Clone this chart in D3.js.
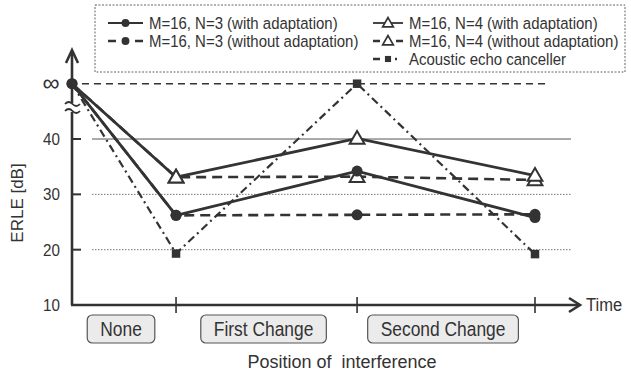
<!DOCTYPE html>
<html>
<head>
<meta charset="utf-8">
<script src="https://cdn.jsdelivr.net/npm/d3@7"></script>
<style>
  body { margin: 0; background: #fff; }
  svg { display: block; font-family: "Liberation Sans", Arial, sans-serif; }
</style>
</head>
<body>
<svg id="chart" width="631" height="374"></svg>
<script>
// ∞ is drawn at the 50 dB position on the axis
const INF = 50;
const times = [0, 1, 2.74, 4.45];
const categories = ["None", "First Change", "Second Change"];
const yTicks = [10, 20, 30, 40];
const gridTicks = [20, 30, 40];

const n3With = [INF, 26.2, 34.2, 25.8];
const n3Without = [INF, 26.2, 26.3, 26.4];
const n4With = [INF, 33.1, 40.1, 33.4];
const n4Without = [INF, 33.1, 33.2, 32.6];
const aec = [INF, 19.3, INF, 19.2];

const ink = "#333";
const svg = d3.select("#chart");

const x = d3.scaleLinear().domain([0, 4.45]).range([72, 535]);
const y = d3.scaleLinear().domain([10, 50]).range([305, 83.7]);

// narrow text, the scan is a bit squeezed sideways
function label(parent, tx, ty, str, size, sx, anchor) {
    return parent.append("text")
        .attr("transform", `translate(${tx},${ty}) scale(${sx},1)`)
        .attr("text-anchor", anchor || "start")
        .attr("font-size", size).attr("fill", ink).text(str);
}

// grid lines
gridTicks.forEach(function(t) {
    svg.append("line")
        .attr("x1", 92).attr("x2", 571)
        .attr("y1", y(t)).attr("y2", y(t))
        .attr("stroke", t === 40 ? "#555" : "#777")
        .attr("stroke-width", 1)
        .attr("stroke-dasharray", t === 40 ? null : "1.5,1.5");
});
// reference line at ∞
svg.append("line")
    .attr("x1", 82).attr("x2", 545)
    .attr("y1", y(INF)).attr("y2", y(INF))
    .attr("stroke", ink).attr("stroke-width", 1.6)
    .attr("stroke-dasharray", "7,5");

// axes
svg.append("line").attr("x1", x(0)).attr("x2", x(0)).attr("y1", y(10)).attr("y2", 51)
    .attr("stroke", ink).attr("stroke-width", 2.6);
svg.append("path").attr("d", "M66,63L72,50L78,63").attr("fill", "none")
    .attr("stroke", ink).attr("stroke-width", 2.6);
svg.append("line").attr("x1", x(0) - 1).attr("x2", 580).attr("y1", y(10)).attr("y2", y(10))
    .attr("stroke", ink).attr("stroke-width", 2.6);
svg.append("path").attr("d", "M569,298L580,305L569,312").attr("fill", "none")
    .attr("stroke", ink).attr("stroke-width", 2.6);
label(svg, 586, 311, "Time", 19, 0.87);

// axis break
svg.append("rect").attr("x", 64).attr("y", 103).attr("width", 16).attr("height", 9).attr("fill", "#fff");
[104, 111].forEach(function(yy) {
    svg.append("path")
        .attr("d", `M65,${yy}q3.75,-4 7.5,0t7.5,0`)
        .attr("fill", "none").attr("stroke", ink).attr("stroke-width", 1.8);
});

// y ticks
yTicks.forEach(function(t) {
    if (t > 10) {
        svg.append("line").attr("x1", x(0)).attr("x2", 81)
            .attr("y1", y(t)).attr("y2", y(t))
            .attr("stroke", ink).attr("stroke-width", 2);
    }
    label(svg, 60, y(t) + 6, t, 16, 0.95, "end");
});
svg.append("text").attr("x", 51).attr("y", y(INF) + 7)
    .attr("text-anchor", "middle").attr("font-size", 24).attr("fill", ink).text("∞");
svg.append("text")
    .attr("transform", "translate(23,203) rotate(-90)")
    .attr("text-anchor", "middle").attr("font-size", 17).attr("fill", ink).text("ERLE [dB]");

// x ticks
times.slice(1).forEach(function(t) {
    svg.append("line").attr("x1", x(t)).attr("x2", x(t)).attr("y1", 297).attr("y2", 313)
        .attr("stroke", ink).attr("stroke-width", 1.6);
});

// category boxes
categories.forEach(function(c, i) {
    const cx = (x(times[i]) + x(times[i + 1])) / 2 - 3;
    const g = svg.append("g");
    const txt = label(g, cx, 336, c, 20, 0.87, "middle");
    const w = txt.node().getComputedTextLength() * 0.87 + 26;
    g.insert("rect", "text")
        .attr("x", cx - w / 2).attr("y", 315).attr("width", w).attr("height", 28)
        .attr("rx", 5).attr("fill", "#ebebeb").attr("stroke", "#555").attr("stroke-width", 1.2);
});
svg.append("text").attr("x", 342).attr("y", 368).attr("text-anchor", "middle")
    .attr("font-size", 18).attr("fill", ink).attr("xml:space", "preserve")
    .text("Position of  interference");

// series
const series = [
    { name: "M=16, N=3 (without adaptation)", values: n3Without, dash: "10,6", width: 2.6, marker: "circle", lx: 108, ly: 41, key: "8,19" },
    { name: "M=16, N=4 (without adaptation)", values: n4Without, dash: "10,6", width: 2.6, marker: "triangle", lx: 373, ly: 41, key: "7,16" },
    { name: "M=16, N=3 (with adaptation)", values: n3With, dash: null, width: 2.8, marker: "circle", lx: 108, ly: 23, key: null },
    { name: "M=16, N=4 (with adaptation)", values: n4With, dash: null, width: 2.8, marker: "triangle", lx: 373, ly: 23, key: null },
    { name: "Acoustic echo canceller", values: aec, dash: "8,4,2,4", width: 2.2, marker: "square", lx: 373, ly: 59, key: "7,15,2,10" }
];

const line = d3.line().x((d, i) => x(times[i])).y(d => y(d));

function drawMarker(sel, kind, cx, cy, k) {
    k = k || 1;
    if (kind === "circle") {
        sel.append("circle").attr("cx", cx).attr("cy", cy).attr("r", 5.5 * k).attr("fill", ink);
    } else if (kind === "triangle") {
        sel.append("path").attr("transform", `translate(${cx},${cy + k})`)
            .attr("d", d3.symbol(d3.symbolTriangle, 95 * k * k)())
            .attr("fill", "#fff").attr("stroke", ink).attr("stroke-width", 2 * Math.sqrt(k));
    } else {
        sel.append("path").attr("transform", `translate(${cx},${cy})`)
            .attr("d", d3.symbol(d3.symbolSquare, 72 * k * k)())
            .attr("fill", ink);
    }
}

series.forEach(function(s) {
    svg.append("path").attr("d", line(s.values)).attr("fill", "none")
        .attr("stroke", ink).attr("stroke-width", s.width)
        .attr("stroke-dasharray", s.dash);
});
series.forEach(function(s) {
    s.values.forEach(function(v, i) {
        if (i === 0 && s.marker !== "circle") return;
        drawMarker(svg, s.marker, x(times[i]), y(v));
    });
});

// legend
svg.append("rect").attr("x", 95).attr("y", 5).attr("width", 530).attr("height", 67)
    .attr("fill", "#fff").attr("stroke", "#666").attr("stroke-width", 1)
    .attr("stroke-dasharray", "2,1.5");
series.forEach(function(s) {
    const len = s.marker === "circle" ? 35 : 30;
    svg.append("line").attr("x1", s.lx).attr("x2", s.lx + len)
        .attr("y1", s.ly).attr("y2", s.ly)
        .attr("stroke", ink).attr("stroke-width", s.key ? 2.4 : 1.8)
        .attr("stroke-dasharray", s.key);
    drawMarker(svg, s.marker, s.lx + len / 2, s.ly, 0.72);
    label(svg, s.lx + len + 6, s.ly + 6, s.name, 17, 0.88);
});
</script>
</body>
</html>
